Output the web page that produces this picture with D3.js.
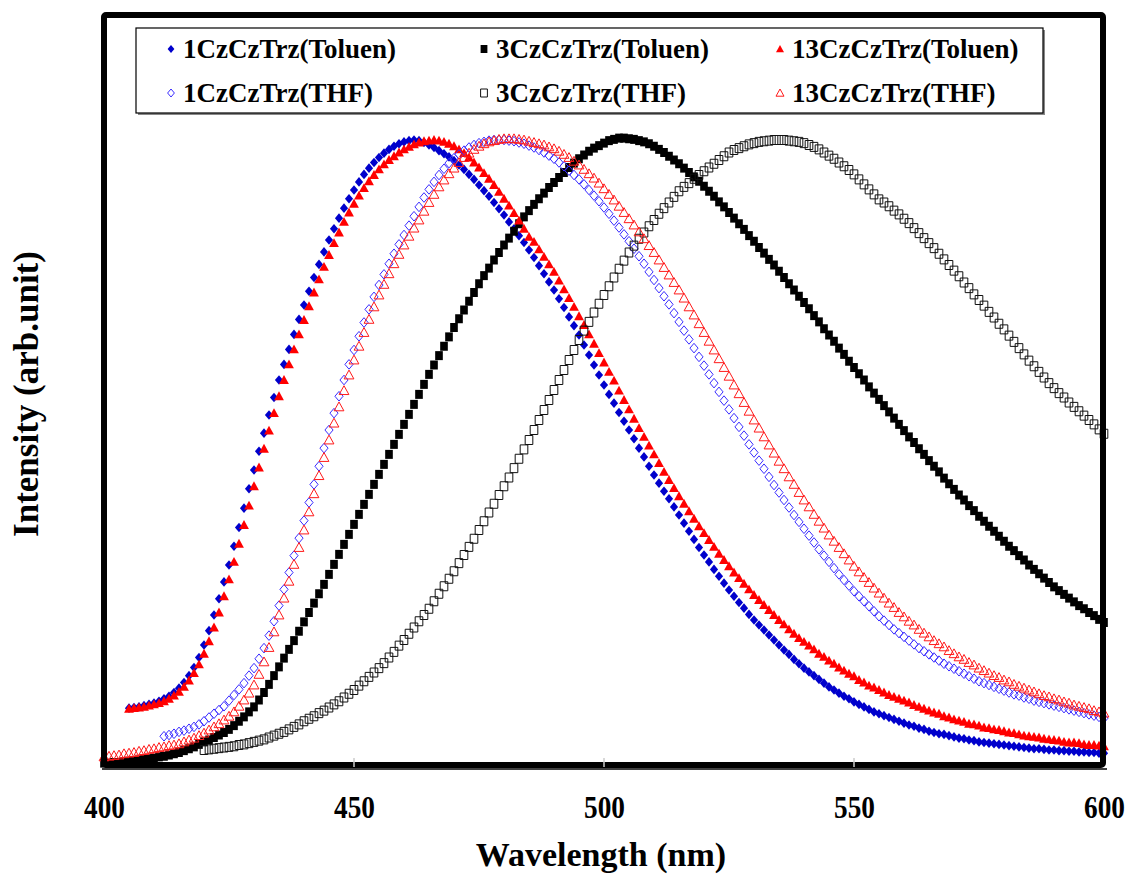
<!DOCTYPE html>
<html lang="en">
<head>
<meta charset="utf-8">
<title>PL spectra</title>
<script src="https://d3js.org/d3.v7.min.js"></script>
<style>
body { margin: 0; background: #fff; }
svg text { font-family: "Liberation Serif", "Times New Roman", serif; font-weight: bold; fill: #000; }
</style>
</head>
<body>
<svg width="1126" height="877"></svg>
<script>

// emission spectra, 1 nm steps, intensity normalised (arb.unit)
var tol1Start = 405;
var tol1 = [91,92,93,95,97,99,
  102,106,110,116,123,132,143,156,172,192,
  215,240,266,293,320,350,380,411,442,472,
  502,531,560,588,616,641,665,689,713,736,
  758,780,801,821,840,858,875,891,906,920,
  933,945,955,964,972,979,985,990,994,997,
  999,1000,999,996,992,988,983,978,973,967,
  960,953,945,937,928,919,910,900,890,880,
  869,858,847,836,824,812,799,786,773,760,
  746,732,717,703,688,672,656,640,624,608,
  593,579,564,550,536,522,507,493,478,464,
  451,438,426,413,400,387,374,361,348,336,
  325,313,302,291,280,270,260,251,241,232,
  224,216,208,200,192,184,177,169,162,155,
  149,143,137,131,125,120,115,110,106,101,
  97,93,89,85,82,79,76,73,70,67,
  64,62,59,57,54,52,50,49,47,45,
  43,42,40,39,37,36,35,34,33,32,
  31,30,29,28,27,26,26,25,24,24,
  23,23,22,22,21,21,20,20,19,19];

var tol3Start = 400;
var tol3 = [3,3,4,4,5,6,7,8,9,10,11,
  13,14,16,18,20,23,26,29,33,37,
  40,44,48,52,57,63,70,77,85,93,
  104,116,129,143,157,171,185,199,214,229,
  244,259,274,289,305,321,337,353,369,385,
  401,417,433,449,465,481,497,513,529,545,
  561,577,593,609,625,640,655,670,685,700,
  714,728,742,756,770,783,795,808,820,832,
  843,854,866,877,887,897,906,915,924,932,
  940,948,956,963,970,976,982,987,991,995,
  999,1001,1003,1003,1002,1001,999,997,994,990,
  985,980,974,968,962,955,948,941,934,926,
  918,910,901,893,884,875,866,857,847,838,
  828,819,809,800,790,780,770,760,750,740,
  730,719,709,698,688,678,667,657,646,636,
  626,616,605,595,585,575,565,555,545,535,
  525,516,506,497,487,478,469,459,450,441,
  432,424,415,407,398,390,382,374,366,358,
  350,343,335,328,320,313,306,299,292,285,
  279,273,267,261,255,250,244,239,233,228];

var tol13Start = 405;
var tol13 = [90,91,92,93,95,97,
  99,102,106,111,117,125,135,147,161,178,
  198,220,244,270,297,325,354,384,415,446,
  476,506,535,563,590,616,641,665,689,712,
  734,756,777,797,816,835,852,869,884,898,
  911,923,934,944,953,961,968,974,980,985,
  989,993,996,998,999,1000,999,997,994,990,
  985,979,972,964,956,947,938,928,917,906,
  895,883,871,858,845,837,825,813,801,789,
  775,761,747,733,718,704,689,674,659,644,
  629,615,599,584,569,554,539,525,511,497,
  483,469,456,443,430,418,406,394,382,371,
  360,349,338,328,318,308,299,290,281,272,
  264,256,248,240,232,225,217,210,203,197,
  191,185,178,173,167,162,156,151,146,142,
  136,132,127,124,120,116,112,109,106,103,
  100,96,93,90,87,84,82,78,76,73,
  71,69,66,65,63,60,59,57,56,54,
  52,51,49,47,46,45,44,42,41,40,
  39,37,36,36,35,33,32,32,31,30];

var thf1Start = 412;
var thf1 = [46,48,50,53,55,58,61,65,70,
  76,82,88,94,103,112,121,131,143,155,
  170,187,207,230,255,281,308,335,363,391,
  420,449,478,507,536,563,590,616,641,664,
  686,708,729,749,768,785,802,818,833,848,
  863,878,893,908,921,933,944,954,963,971,
  977,983,988,992,995,997,999,1000,1000,1000,
  999,998,996,994,991,988,984,980,975,970,
  964,958,951,944,937,929,920,911,902,892,
  882,871,860,849,838,826,814,802,789,776,
  763,750,737,723,709,695,681,667,653,639,
  625,611,597,583,569,555,541,527,513,500,
  487,474,461,448,436,424,412,400,389,378,
  367,356,345,335,325,315,305,296,287,278,
  270,262,254,246,238,231,224,217,211,205,
  199,193,187,182,177,172,167,162,158,154,
  150,146,142,138,134,131,128,125,122,119,
  116,113,111,108,106,103,101,99,97,95,
  93,91,89,87,85,83,81,79,77,75];

var thf3Start = 420;
var thf3 = [24,25,26,27,28,29,30,32,33,35,37,
  39,41,44,47,50,53,57,61,65,70,
  74,78,83,87,92,97,102,108,114,120,
  127,134,141,148,155,163,172,181,191,200,
  210,220,230,240,250,262,274,286,298,310,
  323,336,349,362,376,390,404,418,432,446,
  460,475,490,505,520,536,552,568,584,600,
  616,632,648,664,680,695,709,724,738,752,
  766,780,794,807,820,831,842,852,862,872,
  882,891,900,909,918,925,931,938,944,950,
  956,962,968,974,980,984,987,990,993,995,
  997,998,999,1000,1000,1000,999,998,997,995,
  992,989,985,980,975,970,964,958,952,945,
  937,929,921,913,905,900,894,887,881,874,
  867,859,851,843,835,827,818,809,800,791,
  782,772,763,753,744,735,725,716,706,697,
  687,677,667,657,647,638,629,620,611,603,
  595,588,580,573,566,559,552,545,537,530];

var thf13Start = 400;
var thf13 = [13,14,15,16,18,19,20,22,23,25,26,
  28,29,31,32,34,37,40,43,47,51,
  56,61,66,72,78,85,94,104,115,128,
  145,165,188,213,240,267,294,321,348,376,
  405,434,463,492,520,547,573,599,624,648,
  670,692,713,733,752,769,786,802,817,832,
  846,859,872,886,900,913,925,936,946,955,
  964,972,979,985,990,994,997,999,1001,1002,
  1002,1002,1001,1000,998,996,994,992,989,986,
  982,977,972,966,960,953,946,939,931,922,
  913,904,894,884,874,864,853,842,831,820,
  808,796,784,772,760,747,733,720,706,692,
  678,664,650,636,622,608,594,580,566,552,
  539,525,512,499,486,474,461,449,436,424,
  413,401,390,379,368,358,348,338,328,318,
  309,300,292,283,275,267,259,252,244,237,
  230,224,217,211,205,199,194,189,183,178,
  173,169,164,160,155,151,147,143,140,136,
  133,129,126,123,120,117,114,111,109,106,
  104,101,99,96,94,92,90,87,85,83];

var seriesNames = ["1CzCzTrz(Toluen)", "3CzCzTrz(Toluen)", "13CzCzTrz(Toluen)",
                   "1CzCzTrz(THF)", "3CzCzTrz(THF)", "13CzCzTrz(THF)"];
var xTicks = [400, 450, 500, 550, 600];

var series = [
  {name: seriesNames[0], start: tol1Start, vals: tol1, shape: "diamond", fill: "#0000cc", stroke: "none"},
  {name: seriesNames[1], start: tol3Start, vals: tol3, shape: "square", fill: "#000", stroke: "none"},
  {name: seriesNames[2], start: tol13Start, vals: tol13, shape: "triangle", fill: "#ff0000", stroke: "none"},
  {name: seriesNames[3], start: thf1Start, vals: thf1, shape: "diamond", fill: "#fff", stroke: "#3a2cff"},
  {name: seriesNames[4], start: thf3Start, vals: thf3, shape: "square", fill: "#fff", stroke: "#111"},
  {name: seriesNames[5], start: thf13Start, vals: thf13, shape: "triangle", fill: "#fff", stroke: "#ff1a1a"}
];

var svg = d3.select("svg");
var plotL = 104, plotR = 1103, plotT = 15, plotB = 765;

var x = d3.scaleLinear().domain([400, 600]).range([plotL, plotR + 1]);
var y = d3.scaleLinear().domain([0, 1200]).range([plotB, plotT]);

function marker(shape, s) {
  if (shape === "diamond") return "M0," + (-s) + "L" + (s * 0.85) + ",0L0," + s + "L" + (-s * 0.85) + ",0Z";
  if (shape === "square") return "M" + (-s * 0.85) + "," + (-s) + "h" + (s * 1.7) + "v" + (2 * s) + "h" + (-s * 1.7) + "Z";
  return "M0," + (-s) + "L" + s + "," + (s * 0.8) + "L" + (-s) + "," + (s * 0.8) + "Z";
}
var markSize = {diamond: 4.8, square: 4.5, triangle: 4.9};

// data
var plot = svg.append("g");
series.forEach(function(sr) {
  var pts = sr.vals.map(function(v, i) { return {nm: sr.start + i, v: v}; });
  plot.append("g").selectAll("path").data(pts).enter().append("path")
      .attr("transform", function(d) { return "translate(" + x(d.nm) + "," + y(d.v) + ")"; })
      .attr("d", marker(sr.shape, markSize[sr.shape]))
      .attr("fill", sr.fill === "#fff" ? "none" : sr.fill)
      .attr("stroke", sr.stroke)
      .attr("stroke-width", 1);
});

// frame
svg.append("rect")
    .attr("x", plotL).attr("y", plotT)
    .attr("width", plotR - plotL).attr("height", plotB - plotT)
    .attr("fill", "none").attr("stroke", "#000").attr("stroke-width", 6)
    .attr("rx", 2);
svg.append("line").attr("x1", plotL - 2).attr("x2", plotR + 4)
    .attr("y1", plotB + 4).attr("y2", plotB + 4)
    .attr("stroke", "#000").attr("stroke-width", 1.5);

// axis
var ax = svg.append("g")
    .attr("transform", "translate(0," + plotB + ")")
    .call(d3.axisBottom(x).tickValues(xTicks).tickSize(0).tickPadding(31).tickFormat(d3.format("d")));
ax.select(".domain").remove();
ax.selectAll("text").attr("font-size", 31).attr("fill", "#000")
    .attr("font-family", "'Liberation Serif', 'Times New Roman', serif")
    .attr("font-weight", "bold").attr("transform", "scale(0.88,1)");
svg.append("g").selectAll("line").data(xTicks.slice(1, -1)).enter().append("line")
    .attr("x1", function(d) { return x(d); }).attr("x2", function(d) { return x(d); })
    .attr("y1", plotB - 7).attr("y2", plotB + 2)
    .attr("stroke", "#ccc").attr("stroke-width", 1.5);

svg.append("text").attr("x", 601).attr("y", 866)
    .attr("text-anchor", "middle").attr("font-size", 34).text("Wavelength (nm)");
svg.append("text").attr("transform", "translate(38,394) rotate(-90)")
    .attr("text-anchor", "middle").attr("font-size", 35).text("Intensity (arb.unit)");

// legend
var lg = svg.append("g");
lg.append("rect").attr("x", 138).attr("y", 30).attr("width", 907).attr("height", 85)
    .attr("fill", "#888");
lg.append("rect").attr("x", 136).attr("y", 28).attr("width", 907).attr("height", 85)
    .attr("fill", "#fff").attr("stroke", "#000").attr("stroke-width", 1.2);
var colX = [171, 484, 780], rowY = [49, 93];
series.forEach(function(sr, i) {
  var cx = colX[i % 3], cy = rowY[Math.floor(i / 3)];
  lg.append("path").attr("transform", "translate(" + cx + "," + cy + ")")
      .attr("d", marker(sr.shape, 4))
      .attr("fill", sr.fill).attr("stroke", sr.stroke).attr("stroke-width", 1);
  lg.append("text").attr("x", cx + 12).attr("y", cy + 9)
      .attr("font-size", 27).text(sr.name);
});

</script>
</body>
</html>
